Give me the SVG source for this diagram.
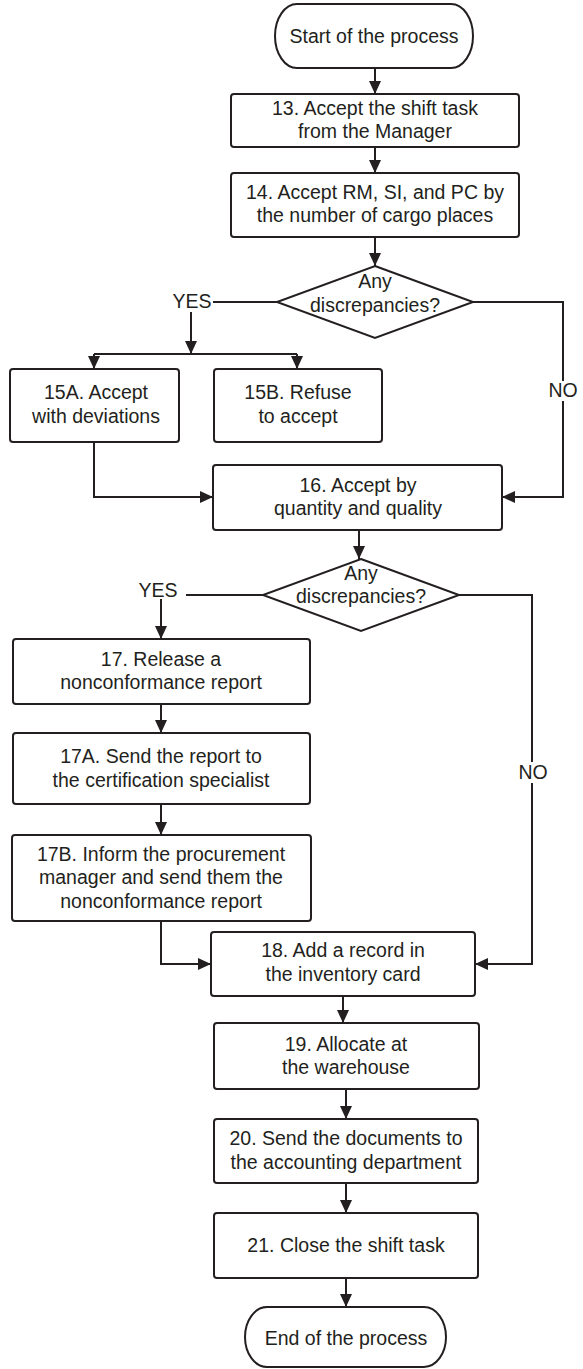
<svg xmlns="http://www.w3.org/2000/svg" width="583" height="1369" viewBox="0 0 583 1369">
  <style>
    .shape { fill: #ffffff; stroke: #231f20; stroke-width: 2; }
    .conn { fill: none; stroke: #231f20; stroke-width: 2; }
    .lbl { font-family: "Liberation Sans", Arial, sans-serif; font-size: 19.5px; fill: #231f20; text-anchor: middle; }
    .bg { fill: #ffffff; stroke: none; }
  </style>
  <defs>
    <marker id="arrow" markerUnits="userSpaceOnUse" markerWidth="13" markerHeight="12" refX="13" refY="6" orient="auto">
      <path d="M0,0 L13,6 L0,12 Z" fill="#231f20"/>
    </marker>
  </defs>
  <rect width="583" height="1369" fill="#ffffff"/>

  <!-- connectors -->
  <g id="connectors">
    <path class="conn" d="M375,68 V94" marker-end="url(#arrow)"/>
    <path class="conn" d="M375,147 V173" marker-end="url(#arrow)"/>
    <path class="conn" d="M375,237 V266" marker-end="url(#arrow)"/>
    <path class="conn" d="M277,302 H191 V354" marker-end="url(#arrow)"/>
    <path class="conn" d="M94,354 H297"/>
    <path class="conn" d="M94,354 V369" marker-end="url(#arrow)"/>
    <path class="conn" d="M297,354 V369" marker-end="url(#arrow)"/>
    <path class="conn" d="M94,442 V497 H213" marker-end="url(#arrow)"/>
    <path class="conn" d="M473,302 H563 V497 H502" marker-end="url(#arrow)"/>
    <path class="conn" d="M359,530 V559" marker-end="url(#arrow)"/>
    <path class="conn" d="M263,595 H161 V639" marker-end="url(#arrow)"/>
    <path class="conn" d="M459,595 H532 V964 H475" marker-end="url(#arrow)"/>
    <path class="conn" d="M161,704 V733" marker-end="url(#arrow)"/>
    <path class="conn" d="M161,804 V835" marker-end="url(#arrow)"/>
    <path class="conn" d="M161,921 V964 H211" marker-end="url(#arrow)"/>
    <path class="conn" d="M343,996 V1023" marker-end="url(#arrow)"/>
    <path class="conn" d="M346,1089 V1119" marker-end="url(#arrow)"/>
    <path class="conn" d="M346,1183 V1213" marker-end="url(#arrow)"/>
    <path class="conn" d="M346,1278 V1307" marker-end="url(#arrow)"/>

    <!-- branch labels -->
    <rect class="bg" x="170" y="290" width="43" height="22"/>
    <text class="lbl" x="192" y="308">YES</text>
    <rect class="bg" x="547" y="381" width="32" height="20"/>
    <text class="lbl" x="563" y="397">NO</text>
    <rect class="bg" x="135" y="579" width="51" height="20"/>
    <text class="lbl" x="158" y="597">YES</text>
    <rect class="bg" x="517" y="762" width="32" height="21"/>
    <text class="lbl" x="533" y="779">NO</text>
  </g>

  <g id="start">
    <rect class="shape" x="275" y="4" width="198" height="64" rx="22" ry="32"/>
    <text class="lbl" x="374" y="43">Start of the process</text>
  </g>

  <g id="step13">
    <rect class="shape" x="231" y="94" width="288" height="53" rx="3"/>
    <text class="lbl" x="375" y="115">13. Accept the shift task</text>
    <text class="lbl" x="375" y="138">from the Manager</text>
  </g>

  <g id="step14">
    <rect class="shape" x="231" y="173" width="288" height="64" rx="3"/>
    <text class="lbl" x="375" y="199">14. Accept RM, SI, and PC by</text>
    <text class="lbl" x="375" y="222">the number of cargo places</text>
  </g>

  <g id="decision1">
    <polygon class="shape" points="375,266 473,302 375,338 277,302"/>
    <text class="lbl" x="375" y="288">Any</text>
    <text class="lbl" x="375" y="312">discrepancies?</text>
  </g>

  <g id="step15a">
    <rect class="shape" x="10" y="369" width="169" height="73" rx="3"/>
    <text class="lbl" x="96" y="399">15A. Accept</text>
    <text class="lbl" x="96" y="423">with deviations</text>
  </g>

  <g id="step15b">
    <rect class="shape" x="214" y="369" width="168" height="73" rx="3"/>
    <text class="lbl" x="298" y="399">15B. Refuse</text>
    <text class="lbl" x="298" y="423">to accept</text>
  </g>

  <g id="step16">
    <rect class="shape" x="213" y="465" width="289" height="65" rx="3"/>
    <text class="lbl" x="358" y="492">16. Accept by</text>
    <text class="lbl" x="358" y="515">quantity and quality</text>
  </g>

  <g id="decision2">
    <polygon class="shape" points="361,559 459,595 361,631 263,595"/>
    <text class="lbl" x="361" y="580">Any</text>
    <text class="lbl" x="361" y="603">discrepancies?</text>
  </g>

  <g id="step17">
    <rect class="shape" x="13" y="639" width="297" height="65" rx="3"/>
    <text class="lbl" x="161" y="666">17. Release a</text>
    <text class="lbl" x="161" y="689">nonconformance report</text>
  </g>

  <g id="step17a">
    <rect class="shape" x="13" y="733" width="297" height="71" rx="3"/>
    <text class="lbl" x="161" y="763">17A. Send the report to</text>
    <text class="lbl" x="161" y="787">the certification specialist</text>
  </g>

  <g id="step17b">
    <rect class="shape" x="12" y="835" width="299" height="86" rx="3"/>
    <text class="lbl" x="161" y="861">17B. Inform the procurement</text>
    <text class="lbl" x="161" y="884">manager and send them the</text>
    <text class="lbl" x="161" y="908">nonconformance report</text>
  </g>

  <g id="step18">
    <rect class="shape" x="211" y="932" width="264" height="64" rx="3"/>
    <text class="lbl" x="343" y="957">18. Add a record in</text>
    <text class="lbl" x="343" y="981">the inventory card</text>
  </g>

  <g id="step19">
    <rect class="shape" x="214" y="1023" width="265" height="66" rx="3"/>
    <text class="lbl" x="346" y="1051">19. Allocate at</text>
    <text class="lbl" x="346" y="1074">the warehouse</text>
  </g>

  <g id="step20">
    <rect class="shape" x="214" y="1119" width="264" height="64" rx="3"/>
    <text class="lbl" x="346" y="1145">20. Send the documents to</text>
    <text class="lbl" x="346" y="1169">the accounting department</text>
  </g>

  <g id="step21">
    <rect class="shape" x="214" y="1213" width="264" height="65" rx="3"/>
    <text class="lbl" x="346" y="1252">21. Close the shift task</text>
  </g>

  <g id="end">
    <rect class="shape" x="245" y="1307" width="201" height="60" rx="22" ry="30"/>
    <text class="lbl" x="346" y="1345">End of the process</text>
  </g>
</svg>
